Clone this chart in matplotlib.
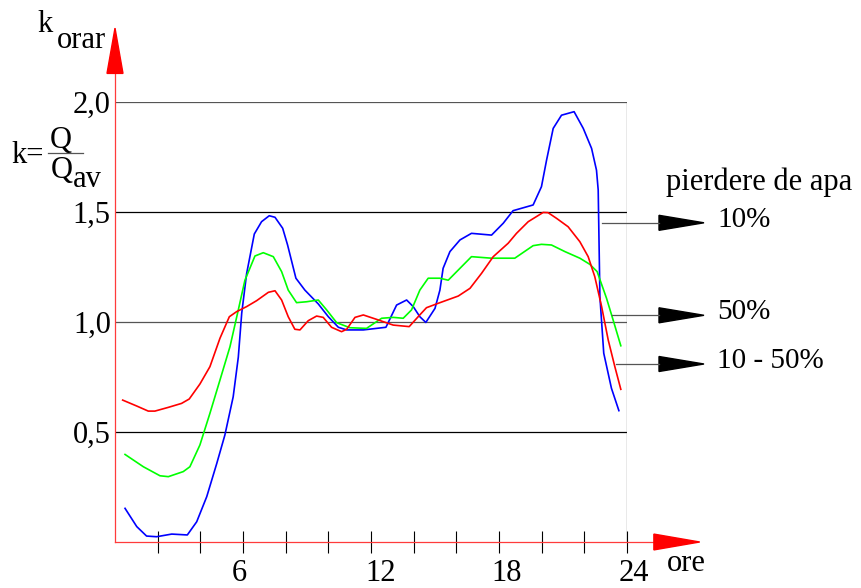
import matplotlib
matplotlib.use("Agg")
import matplotlib.pyplot as plt
from matplotlib.patches import Polygon
from matplotlib.transforms import ScaledTranslation

plt.rcParams['font.family'] = ['Liberation Serif', 'DejaVu Serif']

# ---- data (hours, k_orar) ----
blue_x = [0.47, 1.02, 1.48, 1.95, 2.66, 3.39, 3.83, 4.30, 4.77, 5.15, 5.54, 5.78, 5.94, 6.17,
          6.53, 6.87, 7.23, 7.50, 7.86, 8.09, 8.48, 8.90, 9.53, 10.0, 10.47, 10.86, 11.64,
          12.70, 13.20, 13.67, 13.98, 14.29, 14.57, 15.00, 15.23, 15.38, 15.70, 16.17, 16.71,
          17.65, 18.20, 18.66, 19.60, 19.99, 20.23, 20.54, 20.93, 21.52, 21.95, 22.34, 22.57,
          22.65, 22.68, 22.73, 22.91, 23.27, 23.62]
blue_y = [0.153, 0.07, 0.027, 0.024, 0.036, 0.032, 0.092, 0.206, 0.357, 0.486, 0.66, 0.84, 1.04, 1.22,
          1.40, 1.456, 1.483, 1.476, 1.426, 1.35, 1.199, 1.145, 1.082, 1.024, 0.976, 0.964, 0.964,
          0.976, 1.077, 1.10, 1.07, 1.024, 0.998, 1.062, 1.145, 1.244, 1.32, 1.373, 1.403,
          1.395, 1.449, 1.506, 1.532, 1.615, 1.736, 1.88, 1.94, 1.956, 1.88, 1.789, 1.69,
          1.60, 1.418, 1.115, 0.858, 0.699, 0.597]

green_x = [0.47, 1.33, 2.11, 2.50, 3.20, 3.51, 3.98, 4.45, 4.92, 5.39, 5.78, 6.09, 6.56, 6.95,
           7.42, 7.81, 8.12, 8.51, 8.98, 9.53, 9.92, 10.39, 11.01, 11.79, 12.50, 13.04, 13.51,
           13.90, 14.29, 14.68, 15.23, 15.62, 16.17, 16.71, 17.65, 18.74, 19.60, 19.99, 20.46,
           21.09, 21.79, 22.26, 22.60, 23.04, 23.35, 23.71]
green_y = [0.398, 0.342, 0.301, 0.297, 0.32, 0.342, 0.441, 0.585, 0.736, 0.888, 1.055, 1.19, 1.30, 1.315,
           1.297, 1.229, 1.145, 1.088, 1.092, 1.10, 1.055, 0.997, 0.974, 0.971, 1.017, 1.021, 1.017,
           1.055, 1.145, 1.199, 1.199, 1.19, 1.244, 1.297, 1.29, 1.29, 1.347, 1.353, 1.35,
           1.32, 1.29, 1.262, 1.229, 1.108, 1.009, 0.892]

red_x = [0.36, 1.02, 1.56, 1.87, 2.50, 3.12, 3.48, 3.98, 4.45, 4.92, 5.36, 5.70, 6.17, 6.64,
         7.19, 7.50, 7.81, 8.12, 8.43, 8.67, 9.06, 9.45, 9.76, 10.15, 10.62, 10.86, 11.25,
         11.64, 12.26, 13.04, 13.79, 14.21, 14.60, 15.15, 16.09, 16.64, 17.18, 17.73, 18.43,
         18.82, 19.37, 20.07, 20.30, 20.70, 21.24, 21.79, 22.18, 22.49, 22.81, 23.12, 23.43, 23.71]
red_y = [0.645, 0.618, 0.595, 0.595, 0.612, 0.63, 0.65, 0.718, 0.797, 0.926, 1.024, 1.047, 1.07, 1.097,
         1.135, 1.142, 1.10, 1.024, 0.967, 0.964, 1.006, 1.027, 1.021, 0.976, 0.956, 0.967, 1.021,
         1.032, 1.012, 0.986, 0.979, 1.024, 1.065, 1.085, 1.118, 1.153, 1.221, 1.297, 1.358,
         1.403, 1.456, 1.498, 1.497, 1.471, 1.433, 1.365, 1.297, 1.206, 1.07, 0.918, 0.797, 0.694]

x_ticks = list(range(2, 25, 2))
x_label_hours = [6, 12, 18, 24]
x_label_texts = ["6", "12", "18", "24"]
y_ticks = [0.5, 1.0, 1.5, 2.0]
y_labels = ["0,5", "1,0", "1,5", "2,0"]
legend_title = "pierdere de apa"
legend_labels = ["10%", "50%", "10 - 50%"]

W, H = 861, 588
fig = plt.figure(figsize=(W / 100, H / 100), dpi=100)
ax = fig.add_axes([115 / W, (H - 542) / H, (627 - 115) / W, 440 / H])
ax.set_xlim(0, 24)
ax.set_ylim(0, 2)
for s in ax.spines.values():
    s.set_visible(False)

FS = 22

# grid / frame
for yv in y_ticks:
    c = '#555555' if yv in (1.0, 2.0) else 'black'
    ax.plot([0, 24], [yv, yv], color=c, lw=0.9, zorder=1)
ax.plot([24, 24], [0, 2], color='#555555', lw=0.9, zorder=1)

# curves
ax.plot(blue_x, blue_y, color='#0000ff', lw=1.2, zorder=3, clip_on=False)
ax.plot(green_x, green_y, color='#00ff00', lw=1.2, zorder=3, clip_on=False)
ax.plot(red_x, red_y, color='#ff0000', lw=1.2, zorder=3, clip_on=False)

# axes with arrows (red)
ax.plot([0, 25.3], [0, 0], color='#ff3b3b', lw=0.9, clip_on=False, zorder=2)
ax.plot([0, 0], [0, 2.14], color='#ff3b3b', lw=0.9, clip_on=False, zorder=2)
ax.add_patch(Polygon([(25.26, -0.036), (25.26, 0.036), (27.41, 0.0)], closed=True,
                     color='red', clip_on=False, zorder=4))
ax.add_patch(Polygon([(-0.375, 2.13), (0.375, 2.13), (0.0, 2.336)], closed=True,
                     color='red', clip_on=False, zorder=4))

# ticks
ax.set_xticks(x_ticks)
ax.set_xticklabels([])
ax.tick_params(axis='x', direction='inout', length=15.8, width=0.8, color='black')
label_dx = [-4, 10, 8, 6.5]  # pixel nudges of the hour labels
for hx, txt, dx in zip(x_label_hours, x_label_texts, label_dx):
    tr = ax.transData + ScaledTranslation(dx / 100, -39 / 100, fig.dpi_scale_trans)
    ax.text(hx, 0, txt, transform=tr, fontsize=FS, ha='center', va='baseline', clip_on=False)
ax.set_yticks(y_ticks)
ax.set_yticklabels(y_labels, fontsize=FS)
ax.tick_params(axis='y', length=0, pad=3)


def P(x, y):
    return (x / W, 1 - y / H)


# axis labels
fig.text(*P(667, 571), "ore", fontsize=FS, ha='left', va='baseline')
fig.text(*P(37, 32), "k", fontsize=FS, ha='left', va='baseline')
fig.text(*P(57, 48), "orar", fontsize=FS, ha='left', va='baseline')

# formula k = Q / Q_av
fig.text(*P(11, 163), "k=", fontsize=FS, ha='left', va='baseline')
fig.text(*P(61, 148), "Q", fontsize=FS, ha='center', va='baseline')
fig.text(*P(51, 178), "Q", fontsize=FS, ha='left', va='baseline')
fig.text(*P(73, 187), "av", fontsize=FS, ha='left', va='baseline')
fig.add_artist(plt.Line2D([48 / W, 83 / W], [1 - 153 / H, 1 - 153 / H],
                          color='#555555', lw=0.9))

# legend with arrows
fig.text(*P(666, 190), legend_title, fontsize=FS, ha='left', va='baseline')
leg_y = [222.8, 315.3, 364.0]
leg_x0 = [601.6, 611.5, 615.8]
for lab, yy, x0 in zip(legend_labels, leg_y, leg_x0):
    fig.add_artist(plt.Line2D([x0 / W, 659 / W], [1 - yy / H, 1 - yy / H],
                              color='#555555', lw=0.9))
    fig.add_artist(Polygon([P(659, yy - 7.5), P(659, yy + 7.5), P(704, yy)], closed=True,
                           color='black', transform=fig.transFigure))
    fig.text(*P(717, yy + 4), lab, fontsize=21, ha='left', va='baseline')

fig.savefig("out.png", dpi=100)
